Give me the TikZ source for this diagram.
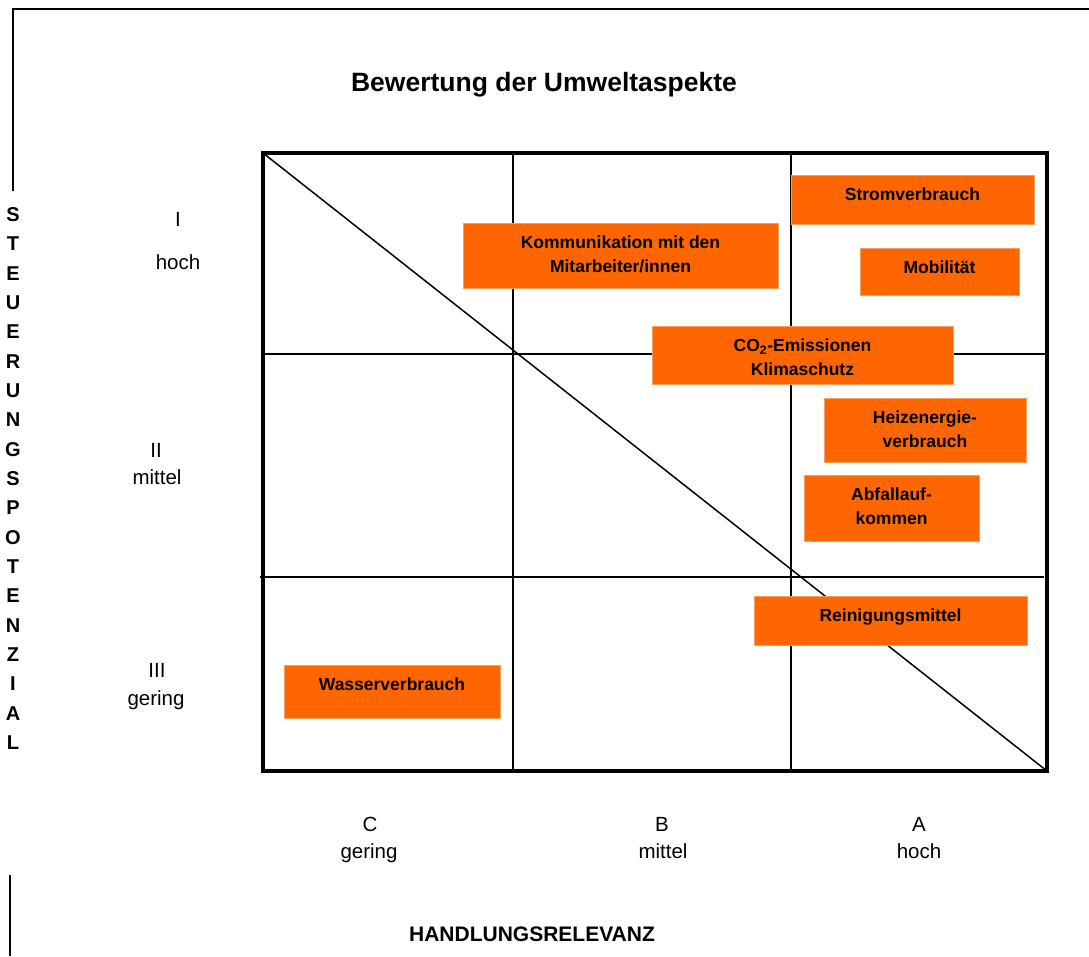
\documentclass[tikz,border=0pt]{standalone}
\usepackage{fontspec}
\setmainfont{Liberation Sans}
\usetikzlibrary{calc}
\definecolor{boxorange}{RGB}{255,102,0}
\definecolor{boxedge}{RGB}{245,160,95}
\begin{document}
\begin{tikzpicture}[x=1pt,y=-1pt,
  gridline/.style={line width=1.7pt},
  frameline/.style={line width=3.2pt},
  pageline/.style={line width=1.8pt},
  box/.style={fill=boxorange, draw=boxedge, line width=0.8pt, inner sep=0pt, outer sep=0pt, anchor=north west},
  boxlbl/.style={font=\fontsize{17.5}{24}\selectfont\bfseries, align=center, inner sep=0pt, anchor=north},
  axlbl/.style={font=\fontsize{20.5}{24}\selectfont, inner sep=0pt, anchor=base},
  vlet/.style={font=\fontsize{20}{24}\selectfont\bfseries, inner sep=0pt, anchor=base},
  titlestyle/.style={font=\fontsize{26.5}{30}\selectfont\bfseries, inner sep=0pt, anchor=base},
  xtitle/.style={font=\fontsize{21}{24}\selectfont\bfseries, inner sep=0pt, anchor=base}
]
\useasboundingbox (0,0) rectangle (1089,956);

% page frame fragments
\coordinate (pgTL) at (13,9);
\coordinate (pgTR) at (1089,9);
\coordinate (pgL) at (13,191);
\coordinate (pgBLa) at (10,875);
\coordinate (pgBLb) at (10,956);
\draw[pageline] (pgL) -- (pgTL) -- (pgTR);
\draw[line width=1.5pt] (pgBLa) -- (pgBLb);

% matrix grid
\coordinate (TL) at (263,153);
\coordinate (BR) at (1047,771);
\coordinate (v1t) at (513,153);
\coordinate (v1b) at (513,771);
\coordinate (v2t) at (791,153);
\coordinate (v2b) at (791,771);
\coordinate (h1l) at (263,354);
\coordinate (h1r) at (1047,354);
\coordinate (h2l) at (260,577);
\coordinate (h2r) at (1044,577);
\draw[gridline] (v1t) -- (v1b);
\draw[gridline] (v2t) -- (v2b);
\draw[gridline] (h1l) -- (h1r);
\draw[gridline] (h2l) -- (h2r);
\draw[line width=1.5pt] (TL) -- (BR);
\draw[frameline] (TL) rectangle (BR);

% boxes
\node[box, minimum width=243, minimum height=49] (strom) at (791,175) {};
\node[boxlbl] (stromT) at ($(strom.north)+(0,8.5)$) {\strut Stromverbrauch};

\node[box, minimum width=159, minimum height=47] (mobil) at (860,248) {};
\node[boxlbl] (mobilT) at ($(mobil.north)+(0,8.5)$) {\strut Mobilität};

\node[box, minimum width=315, minimum height=65] (komm) at (463,223) {};
\node[boxlbl] (kommT) at ($(komm.north)+(0,8.5)$) {\strut Kommunikation mit den\\Mitarbeiter/innen};

\node[box, minimum width=301, minimum height=58] (co2) at (652,326) {};
\node[boxlbl] (co2T) at ($(co2.north)+(0,8.5)$) {\strut CO\textsubscript{2}-Emissionen\\Klimaschutz};

\node[box, minimum width=202, minimum height=64] (heiz) at (824,398) {};
\node[boxlbl] (heizT) at ($(heiz.north)+(0,8.5)$) {\strut Heizenergie-\\verbrauch};

\node[box, minimum width=175, minimum height=66] (abfall) at (804,475) {};
\node[boxlbl] (abfallT) at ($(abfall.north)+(0,8.5)$) {\strut Abfallauf-\\kommen};

\node[box, minimum width=273, minimum height=49] (rein) at (754,596) {};
\node[boxlbl] (reinT) at ($(rein.north)+(0,8.5)$) {\strut Reinigungsmittel};

\node[box, minimum width=216, minimum height=53] (wasser) at (284,665) {};
\node[boxlbl] (wasserT) at ($(wasser.north)+(0,8.5)$) {\strut Wasserverbrauch};

% title
\node[titlestyle] (title) at (544,91.5) {Bewertung der Umweltaspekte};

% row labels
\node[axlbl] (rI) at (178,226.5) {I};
\node[axlbl] (rIh) at (178,269) {hoch};
\node[axlbl] (rII) at (156,457) {II};
\node[axlbl] (rIIm) at (157,484.5) {mittel};
\node[axlbl] (rIII) at (157,677) {III};
\node[axlbl] (rIIIg) at (156,705) {gering};

% column labels
\node[axlbl] (cC) at (370,831) {C};
\node[axlbl] (cCg) at (369,858) {gering};
\node[axlbl] (cB) at (662,831) {B};
\node[axlbl] (cBm) at (663,858) {mittel};
\node[axlbl] (cA) at (919,831) {A};
\node[axlbl] (cAh) at (919,858) {hoch};

% axis titles
\node[xtitle] (xt) at (532,941.5) {HANDLUNGSRELEVANZ};
\foreach \l [count=\i from 0] in {S,T,E,U,E,R,U,N,G,S,P,O,T,E,N,Z,I,A,L}
  \node[vlet] (vl\i) at (13,221.5+29.33*\i) {\l};
\end{tikzpicture}
\end{document}
